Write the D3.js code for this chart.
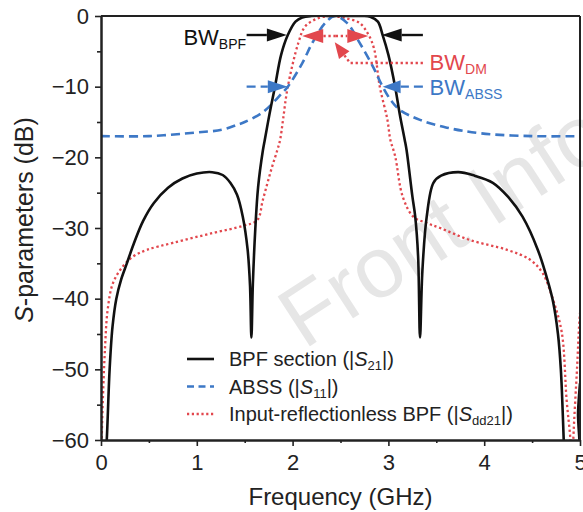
<!DOCTYPE html>
<html><head><meta charset="utf-8">
<script src="https://cdn.jsdelivr.net/npm/d3@7"></script>
<style>body{margin:0;background:#fff} svg{display:block;font-family:"Liberation Sans",Arial,Helvetica,sans-serif}</style>
</head><body><svg id="c" width="583" height="512"></svg>
<script>
// ---- data (frequency in GHz, magnitude in dB) ----
const bpfFreq = [0.04,0.06,0.09,0.12,0.16,0.21,0.27,0.34,0.44,0.55,0.7,0.85,1.0,1.16,1.27,1.35,1.42,1.48,1.53,1.555,1.57,1.585,1.61,1.64,1.69,1.71,1.76,1.816,1.88,1.95,2.03,2.10,2.2,2.45,2.72,2.81,2.89,2.94,3.0,3.07,3.12,3.17,3.19,3.25,3.28,3.31,3.33,3.355,3.40,3.47,3.55,3.73,3.9,4.09,4.25,4.40,4.56,4.67,4.72,4.77,4.80,4.83,4.84,4.97,4.98,5.0];
const bpfDb   = [-64,-60,-50,-44,-40,-37.3,-35,-32.3,-29,-26.5,-24.3,-23,-22.3,-22.1,-22.5,-23.6,-25.3,-28.4,-33,-38,-45.5,-38,-30.3,-24.2,-19,-17.5,-13.8,-10,-5.5,-2.7,-0.8,-0.2,0,0,0,-0.1,-0.8,-2.7,-5.5,-10,-14,-17.5,-19,-25.5,-28.4,-34,-45.5,-36,-28.4,-23.6,-22.6,-22.1,-22.6,-23.6,-25.6,-28.4,-33.1,-37.8,-40.5,-45,-50,-60,-64,-64,-56,-52];

const abssFreq = [0,0.5,0.98,1.26,1.42,1.5,1.69,1.89,1.95,2.10,2.21,2.34,2.44,2.57,2.70,2.84,2.94,3.03,3.12,3.33,3.61,3.96,4.5,5.0];
const abssDb   = [-17,-17,-16.5,-16.1,-15.4,-15,-13.6,-10.9,-10,-6.7,-3.7,-1,0,-1,-3.8,-7.2,-10,-12,-13.3,-14.7,-15.8,-16.6,-17,-17];

const dmFreq = [0.0,0.007,0.02,0.04,0.07,0.125,0.23,0.34,0.48,0.75,1.17,1.48,1.63,1.69,1.78,1.84,1.87,1.90,1.95,2.06,2.13,2.25,2.39,2.55,2.70,2.79,2.85,2.91,2.99,3.02,3.07,3.15,3.26,3.40,3.54,3.85,4.24,4.48,4.61,4.72,4.81,4.86,4.90,4.91,4.925,4.93,4.97,4.99,5.0];
const dmDb   = [-64,-60,-54,-47.5,-41.5,-37.8,-35.4,-34,-33.1,-32.1,-30.7,-29.7,-28.9,-26,-21.6,-19,-17.5,-14.7,-10,-3.8,-1.5,-0.4,0,-0.3,-1,-2.6,-4.6,-10,-14.7,-17.5,-19.8,-25.6,-28.4,-29.3,-30,-31.7,-33.1,-34.5,-36.4,-40.2,-44.8,-54.3,-60,-64,-64,-60,-49.6,-44,-42];

const xTicks = [0,1,2,3,4,5];
const xMinor = [0.5,1.5,2.5,3.5,4.5];
const yTicks = [0,-10,-20,-30,-40,-50,-60];
const yMinor = [-5,-15,-25,-35,-45,-55];

const legendMain = ["BPF section (|", "ABSS (|", "Input-reflectionless BPF (|"];
const legendSub  = ["21", "11", "dd21"];

// annotation anchors in data units [freq, dB]
const bwBpfLeft  = [[1.52,-2.69],[1.94,-2.69]];
const bwBpfRight = [[3.36,-2.69],[2.93,-2.69]];
const bwAbssLeft = [[1.52,-10],[1.95,-10]];
const bwAbssRight= [[3.36,-10],[2.94,-10]];
const bwDmLeft   = [[2.45,-2.83],[2.10,-2.83]];
const bwDmRight  = [[2.45,-2.83],[2.79,-2.83]];
const bwDmLeader = [[3.36,-6.65],[2.60,-6.65],[2.44,-3.7]];
const bwLabels = [
  {t:"BW", s:"BPF",  f:0.86, db:-4.15, c:"#111111"},
  {t:"BW", s:"DM",   f:3.43, db:-7.65, c:"#e2474d"},
  {t:"BW", s:"ABSS", f:3.43, db:-11.2, c:"#3d78c6"}
];

// ---- drawing ----
const svg = d3.select("#c");
const L=101, R=580, T=16, B=440;
const x = d3.scaleLinear().domain([0,5]).range([L,R]);
const y = d3.scaleLinear().domain([-60,0]).range([B,T]);
const BLACK="#111111", BLUE="#3d78c6", RED="#e2474d";

// watermark
svg.append("text").attr("transform","translate(304,350) rotate(-33)")
  .attr("font-size",86).attr("fill","#e6e6e6").text("Front Information");

svg.append("clipPath").attr("id","pc").append("rect")
  .attr("x",L).attr("y",T).attr("width",R-L).attr("height",B-T);

const line = d3.line().x(d=>x(d[0])).y(d=>y(d[1])).curve(d3.curveCatmullRom.alpha(0.5));
const g = svg.append("g").attr("clip-path","url(#pc)");
g.append("path").datum(dmFreq.map((f,i)=>[f,dmDb[i]])).attr("d",line)
  .attr("fill","none").attr("stroke",RED).attr("stroke-width",2.3).attr("stroke-dasharray","2.3,2.7");
g.append("path").datum(abssFreq.map((f,i)=>[f,abssDb[i]])).attr("d",line)
  .attr("fill","none").attr("stroke",BLUE).attr("stroke-width",2.6).attr("stroke-dasharray","9,5");
g.append("path").datum(bpfFreq.map((f,i)=>[f,bpfDb[i]])).attr("d",line)
  .attr("fill","none").attr("stroke",BLACK).attr("stroke-width",2.6);

// axes
const fs=22;
svg.append("g").attr("transform",`translate(0,${B})`)
  .call(d3.axisBottom(x).tickValues(xTicks).tickSize(6).tickSizeOuter(0).tickPadding(8).tickFormat(d3.format("d")));
svg.append("g").attr("transform",`translate(0,${B})`)
  .call(d3.axisBottom(x).tickValues(xMinor).tickSize(3).tickSizeOuter(0).tickFormat(""));
svg.append("g").attr("transform",`translate(${L},0)`)
  .call(d3.axisLeft(y).tickValues(yTicks).tickSize(6).tickSizeOuter(0).tickPadding(6).tickFormat(d3.format("d")));
svg.append("g").attr("transform",`translate(${L},0)`)
  .call(d3.axisLeft(y).tickValues(yMinor).tickSize(4).tickSizeOuter(0).tickFormat(""));
svg.selectAll(".domain").attr("stroke","#222").attr("stroke-width",2);
svg.selectAll(".tick line").attr("stroke","#222").attr("stroke-width",1.6);
svg.selectAll(".tick text").attr("font-size",fs).attr("fill","#222").attr("font-family","Liberation Sans, Arial, sans-serif");
svg.append("line").attr("x1",L).attr("x2",R).attr("y1",T).attr("y2",T).attr("stroke","#222").attr("stroke-width",2);
svg.append("line").attr("x1",R).attr("x2",R).attr("y1",T).attr("y2",B).attr("stroke","#222").attr("stroke-width",2);

// axis titles
svg.append("text").attr("x",(L+R)/2).attr("y",505).attr("text-anchor","middle")
  .attr("font-size",24).attr("fill","#222").text("Frequency (GHz)");
const yt = svg.append("text").attr("transform",`translate(33,${(T+B)/2-8}) rotate(-90)`)
  .attr("text-anchor","middle").attr("font-size",25).attr("fill","#222");
yt.append("tspan").attr("font-style","italic").text("S");
yt.append("tspan").text("-parameters (dB)");

// legend
const legColors=[BLACK,BLUE,RED], legDash=[null,"7,4.5","2.2,2.6"], legW=[2.6,2.6,2.3];
legendMain.forEach((m,i)=>{
  const yy = 359 + i*27.5;
  svg.append("line").attr("x1",187).attr("x2",214).attr("y1",yy).attr("y2",yy)
    .attr("stroke",legColors[i]).attr("stroke-width",legW[i]).attr("stroke-dasharray",legDash[i]);
  const t = svg.append("text").attr("x",229).attr("y",yy+7).attr("font-size",20).attr("fill","#222");
  t.append("tspan").text(m);
  t.append("tspan").attr("font-style","italic").text("S");
  t.append("tspan").attr("font-size",13).attr("dy",4).text(legendSub[i]);
  t.append("tspan").attr("dy",-4).text("|)");
});

// annotations
function arrow(pts, color, dash, hl, hw){
  const p = pts.map(d=>[x(d[0]),y(d[1])]);
  const n=p.length, tip=p[n-1], prev=p[n-2];
  const ang=Math.atan2(tip[1]-prev[1], tip[0]-prev[0]);
  const bx=tip[0]-hl*Math.cos(ang), by=tip[1]-hl*Math.sin(ang);
  const lp = p.slice(0,n-1).concat([[bx,by]]);
  svg.append("path").attr("d",d3.line()(lp)).attr("fill","none").attr("stroke",color)
    .attr("stroke-width",2.4).attr("stroke-dasharray",dash);
  const nx=-Math.sin(ang), ny=Math.cos(ang);
  svg.append("path").attr("d",d3.line()([tip,[bx+nx*hw/2,by+ny*hw/2],[bx-nx*hw/2,by-ny*hw/2]])+"Z")
    .attr("fill",color).attr("stroke","none");
}
arrow(bwBpfLeft, BLACK, null, 20, 13);
arrow(bwBpfRight, BLACK, null, 20, 13);
arrow(bwAbssLeft, BLUE, "9,5", 20, 13);
arrow(bwAbssRight, BLUE, "9,5", 18, 13);
arrow(bwDmLeft, RED, "2.3,2.7", 21, 14);
arrow(bwDmRight, RED, "2.3,2.7", 21, 14);
arrow(bwDmLeader, RED, "2.3,2.7", 16, 13);

bwLabels.forEach(l=>{
  const t = svg.append("text").attr("x",x(l.f)).attr("y",y(l.db)).attr("font-size",22).attr("fill",l.c);
  t.append("tspan").text(l.t);
  t.append("tspan").attr("font-size",14).attr("dy",4).text(l.s);
});
</script></body></html>
